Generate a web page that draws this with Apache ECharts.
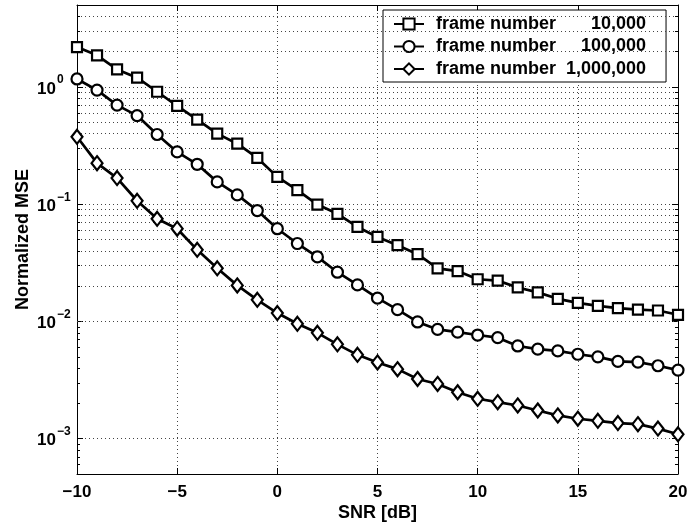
<!DOCTYPE html>
<html>
<head>
<meta charset="utf-8">
<script src="https://cdn.jsdelivr.net/npm/echarts@6/dist/echarts.min.js"></script>
<style>
  html, body { margin: 0; padding: 0; background: #fff; }
  #chart { width: 691px; height: 527px; }
</style>
</head>
<body>
<div id="chart"></div>
<script>
// SNR points (dB)
var snr = [-10, -9, -8, -7, -6, -5, -4, -3, -2, -1, 0, 1, 2, 3, 4, 5, 6, 7, 8, 9, 10,
           11, 12, 13, 14, 15, 16, 17, 18, 19, 20];

// normalized MSE
var mse10k = [2.19, 1.86, 1.41, 1.20, 0.91, 0.69, 0.526, 0.40, 0.328, 0.248, 0.171,
              0.132, 0.0993, 0.0828, 0.064, 0.0526, 0.0447, 0.0375, 0.0284, 0.0269, 0.0229,
              0.0223, 0.0195, 0.0177, 0.0156, 0.0144, 0.0136, 0.0130, 0.0126, 0.0124, 0.0114];
var mse100k = [1.17, 0.94, 0.70, 0.57, 0.393, 0.279, 0.219, 0.155, 0.12, 0.0883, 0.0618,
               0.0462, 0.0355, 0.0263, 0.0205, 0.0158, 0.0126, 0.0099, 0.00855, 0.0081, 0.00766,
               0.00727, 0.00618, 0.0058, 0.00561, 0.00525, 0.00499, 0.00456, 0.0045, 0.00419, 0.00385];
var mse1m = [0.376, 0.224, 0.167, 0.107, 0.0751, 0.0618, 0.0408, 0.0284, 0.0203, 0.0153, 0.0118,
             0.00955, 0.008, 0.00638, 0.00519, 0.00447, 0.00392, 0.00323, 0.00293, 0.00249, 0.00219,
             0.00205, 0.00192, 0.00174, 0.00158, 0.00148, 0.00142, 0.00136, 0.00133, 0.00122, 0.00109];

var seriesNames = ['frame number 10,000', 'frame number 100,000', 'frame number 1,000,000'];

// axis ranges and minor grid (2..9 x each decade)
var xMin = -10, xMax = 20, xStep = 5;
var yMin = 5e-4, yMax = 5;
var minorGrid = [];
[1e-4, 1e-3, 1e-2, 1e-1, 1].forEach(function (d) {
  for (var k = 2; k <= 9; k++) {
    var v = +(d * k).toPrecision(3);
    if (v > yMin && v < yMax) minorGrid.push(v);
  }
});

var FONT = '"Liberation Sans", Arial, Helvetica, sans-serif';
var chart = echarts.init(document.getElementById('chart'));

function pairs(ys) {
  return snr.map(function (x, i) { return [x, ys[i]]; });
}

var gridLine = { color: '#444', width: 1, type: [1, 3] };

var minorLines = minorGrid.map(function (v) { return { yAxis: v }; });
var minorTicks = [];
minorGrid.forEach(function (v) {
  minorTicks.push([{ coord: [xMin, v] }, { coord: [xMin + 0.15, v] }]);
  minorTicks.push([{ coord: [xMax - 0.15, v] }, { coord: [xMax, v] }]);
});

function lineSeries(name, ys, symbol, size) {
  return {
    name: name,
    type: 'line',
    data: pairs(ys),
    symbol: symbol,
    symbolSize: size,
    showAllSymbol: true,
    lineStyle: { color: '#000', width: 2.7 },
    itemStyle: { color: '#fff', borderColor: '#000', borderWidth: 2.2 },
    emphasis: { disabled: true },
    z: 5
  };
}

var option = {
  backgroundColor: '#fff',
  animation: false,
  grid: { left: 77, right: 13, top: 5, bottom: 50 },
  legend: {
    orient: 'vertical',
    left: 383,
    top: 10,
    backgroundColor: '#fff',
    borderColor: '#000',
    borderWidth: 1,
    borderRadius: 0,
    padding: [5, 20, 4, 10],
    itemWidth: 30,
    itemHeight: 14,
    itemGap: 4.5,
    data: seriesNames,
    textStyle: {
      fontFamily: FONT,
      fontWeight: 'bold',
      fontSize: 18,
      color: '#000',
      rich: {
        n: { fontFamily: FONT, fontWeight: 'bold', fontSize: 18, lineHeight: 21, color: '#000', padding: [0, 0, 0, 7] },
        v: { fontFamily: FONT, fontWeight: 'bold', fontSize: 18, lineHeight: 21, color: '#000', width: 90, align: 'right' }
      }
    },
    formatter: function (name) {
      var cut = name.lastIndexOf(' ');
      return '{n|' + name.slice(0, cut) + '}{v|' + name.slice(cut + 1) + '}';
    }
  },
  xAxis: [{
    type: 'value',
    min: xMin, max: xMax, interval: xStep,
    name: 'SNR [dB]',
    nameLocation: 'middle',
    nameGap: 30,
    nameMoveOverlap: false,
    nameTextStyle: { fontFamily: FONT, fontWeight: 'bold', fontSize: 18, color: '#000' },
    axisLine: { onZero: false, lineStyle: { color: '#000', width: 1 } },
    axisTick: { inside: true, length: 6, lineStyle: { color: '#000' } },
    axisLabel: {
      fontFamily: FONT, fontWeight: 'bold', fontSize: 17, color: '#000', margin: 10,
      formatter: function (v) { return String(v).replace('-', '\u2212'); }
    },
    splitLine: { show: true, lineStyle: gridLine }
  }, {
    type: 'value',
    position: 'top',
    min: xMin, max: xMax, interval: xStep,
    axisLine: { onZero: false, lineStyle: { color: '#000', width: 1 } },
    axisTick: { inside: true, length: 6, lineStyle: { color: '#000' } },
    axisLabel: { show: false },
    splitLine: { show: false }
  }],
  yAxis: [{
    type: 'log',
    min: yMin, max: yMax,
    name: 'Normalized MSE',
    nameLocation: 'middle',
    nameGap: 45,
    nameMoveOverlap: false,
    nameTextStyle: { fontFamily: FONT, fontWeight: 'bold', fontSize: 18, color: '#000' },
    axisLine: { show: true, onZero: false, lineStyle: { color: '#000', width: 1 } },
    axisTick: { inside: true, length: 6, lineStyle: { color: '#000' } },
    axisLabel: {
      margin: 40,
      align: 'left',
      showMinLabel: false,
      showMaxLabel: false,
      formatter: function (v) {
        var e = Math.log10(v), r = Math.round(e);
        if (Math.abs(e - r) > 1e-6) return '';
        return '{b|10}{s|' + String(r).replace('-', '\u2212') + '}';
      },
      rich: {
        b: { fontFamily: FONT, fontWeight: 'bold', fontSize: 17, color: '#000', padding: [4, 0, 0, 0] },
        s: { fontFamily: FONT, fontWeight: 'bold', fontSize: 12, color: '#000', padding: [0, 0, 14, 1] }
      }
    },
    splitLine: { show: true, lineStyle: gridLine }
  }, {
    type: 'log',
    position: 'right',
    min: yMin, max: yMax,
    axisLine: { show: true, onZero: false, lineStyle: { color: '#000', width: 1 } },
    axisTick: { inside: true, length: 6, lineStyle: { color: '#000' } },
    axisLabel: { show: false },
    splitLine: { show: false }
  }],
  series: [
    {
      name: 'grid',
      type: 'line',
      data: [],
      silent: true,
      markLine: {
        silent: true,
        symbol: 'none',
        animation: false,
        label: { show: false },
        lineStyle: gridLine,
        emphasis: { disabled: true },
        data: minorLines
      },
      z: 1
    },
    {
      name: 'ticks',
      type: 'line',
      data: [],
      silent: true,
      markLine: {
        silent: true,
        symbol: 'none',
        animation: false,
        label: { show: false },
        lineStyle: { color: '#000', width: 1, type: 'solid' },
        emphasis: { disabled: true },
        data: minorTicks
      },
      z: 2
    },
    lineSeries(seriesNames[0], mse10k, 'rect', 10),
    lineSeries(seriesNames[1], mse100k, 'circle', 11),
    lineSeries(seriesNames[2], mse1m, 'diamond', [11, 14])
  ]
};

chart.setOption(option);
</script>
</body>
</html>
